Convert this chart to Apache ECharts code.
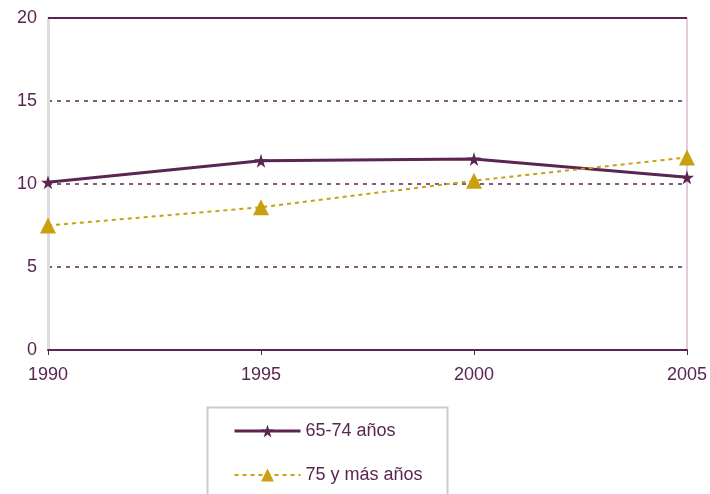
<!DOCTYPE html>
<html><head><meta charset="utf-8">
<script src="https://cdn.jsdelivr.net/npm/echarts@6/dist/echarts.min.js"></script>
<style>html,body{margin:0;padding:0;background:#fff}#c{width:710px;height:494px}</style>
</head><body><div id="c"></div>
<script>
const years = ['1990','1995','2000','2005'];
const s1Name = '65-74 años';
const s1 = [10.1, 11.4, 11.5, 10.4];
const s2Name = '75 y más años';
const s2 = [7.5, 8.6, 10.2, 11.6];
const yTicks = [0, 5, 10, 15, 20];

const purple = '#5a2550';
const gold = '#c9a010';
const star = 'path://M50,0 L61,35 L98,35 L68,57 L79,91 L50,70 L21,91 L32,57 L2,35 L39,35 Z';
const chart = echarts.init(document.getElementById('c'));
chart.setOption({
  animation: false,
  grid: {left: 48, right: 21, top: 18, bottom: 144},
  graphic: [{
    type: 'rect', left: 205, top: 405,
    shape: {width: 240, height: 110},
    style: {fill: 'none', stroke: '#cccccc', lineWidth: 2}
  }],
  xAxis: {
    type: 'category', data: years, boundaryGap: false,
    axisLine: {lineStyle: {color: purple, width: 2}},
    axisTick: {show: true, length: 5, lineStyle: {color: purple}},
    axisLabel: {color: purple, fontSize: 18, fontFamily: 'Liberation Sans, Arial', margin: 16}
  },
  yAxis: [{
    type: 'value', min: yTicks[0], max: yTicks[yTicks.length-1], interval: 5,
    axisLine: {show: true, lineStyle: {color: '#dddddd', width: 3}},
    axisTick: {show: false},
    axisLabel: {color: purple, fontSize: 18, fontFamily: 'Liberation Sans, Arial', margin: 11},
    splitLine: {show: true, lineStyle: {color: purple, type: [4, 5], width: 1.5}}
  }, {
    type: 'value', min: 0, max: 20, position: 'right',
    axisLine: {show: true, lineStyle: {color: '#e8c8dc', width: 2}},
    axisTick: {show: false}, axisLabel: {show: false}, splitLine: {show: false}
  }],
  legend: {
    orient: 'vertical', left: 233, top: 422,
    padding: 0, itemGap: 26, itemWidth: 66, itemHeight: 16,
    textStyle: {color: purple, fontSize: 18, fontFamily: 'Liberation Sans, Arial'},
    data: [{name: s1Name, lineStyle: {width: 3}}, {name: s2Name}]
  },
  series: [{
    name: s1Name, type: 'line', data: s1,
    symbol: star, symbolSize: 14,
    lineStyle: {color: purple, width: 3},
    itemStyle: {color: purple},
    markLine: {silent: true, symbol: 'none', label: {show: false},
      lineStyle: {color: purple, type: 'solid', width: 2},
      data: [{yAxis: 20}]}
  }, {
    name: s2Name, type: 'line', data: s2,
    symbol: 'triangle', symbolSize: 16,
    lineStyle: {color: gold, width: 2, type: [4, 4]},
    itemStyle: {color: gold}
  }]
});
</script></body></html>
